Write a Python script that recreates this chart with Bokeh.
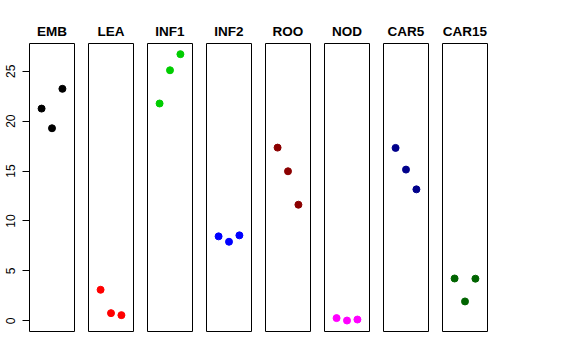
from bokeh.plotting import figure
from bokeh.layouts import row
from bokeh.models import Range1d, FixedTicker
from bokeh.embed import file_html
from bokeh.resources import INLINE

tissues = ["EMB", "LEA", "INF1", "INF2", "ROO", "NOD", "CAR5", "CAR15"]
colors = ["#000000", "#FF0000", "#00CD00", "#0000FF", "#8B0000", "#FF00FF", "#00008B", "#006400"]
reps = [1, 2, 3]
EMB = [21.26, 19.29, 23.24]
LEA = [3.11, 0.77, 0.57]
INF1 = [21.77, 25.10, 26.71]
INF2 = [8.46, 7.92, 8.56]
ROO = [17.35, 14.98, 11.63]
NOD = [0.27, 0.03, 0.13]
CAR5 = [17.32, 15.15, 13.17]
CAR15 = [4.24, 1.94, 4.22]
values = [EMB, LEA, INF1, INF2, ROO, NOD, CAR5, CAR15]
y_ticks = [0, 5, 10, 15, 20, 25]

FONT = "Liberation Sans"
figs = []
for i, (name, col, vals) in enumerate(zip(tissues, colors, values)):
    p = figure(frame_width=45, frame_height=288,
               x_range=Range1d(-0.16, 4.16), y_range=Range1d(-1.07, 27.78),
               output_backend="svg", toolbar_location=None,
               min_border_left=29 if i == 0 else 7, min_border_right=7,
               min_border_top=43, min_border_bottom=8)
    p.title.text = name
    p.title.align = "center"
    p.title.text_font = FONT
    p.title.text_font_size = "13.5px"
    p.title.text_font_style = "bold"
    p.title.text_color = "#000000"
    p.title.standoff = 9
    p.outline_line_color = "#000000"
    p.outline_line_width = 1
    p.outline_line_alpha = 1.0
    p.xgrid.visible = False
    p.ygrid.visible = False
    p.xaxis.visible = False
    if i == 0:
        ax = p.yaxis[0]
        ax.ticker = FixedTicker(ticks=y_ticks)
        ax.axis_line_color = None
        ax.major_tick_out = 7
        ax.major_tick_in = 0
        ax.minor_tick_line_color = None
        ax.major_tick_line_color = "#000000"
        ax.major_label_orientation = "vertical"
        ax.major_label_text_font = FONT
        ax.major_label_text_font_size = "12px"
        ax.major_label_text_color = "#000000"
        ax.major_label_standoff = 7
    else:
        p.yaxis.visible = False
    p.scatter(reps, vals, size=7, color=col, line_color=col)
    figs.append(p)

layout = row(*figs, spacing=0)
open("out.html", "w").write(file_html(layout, INLINE))
